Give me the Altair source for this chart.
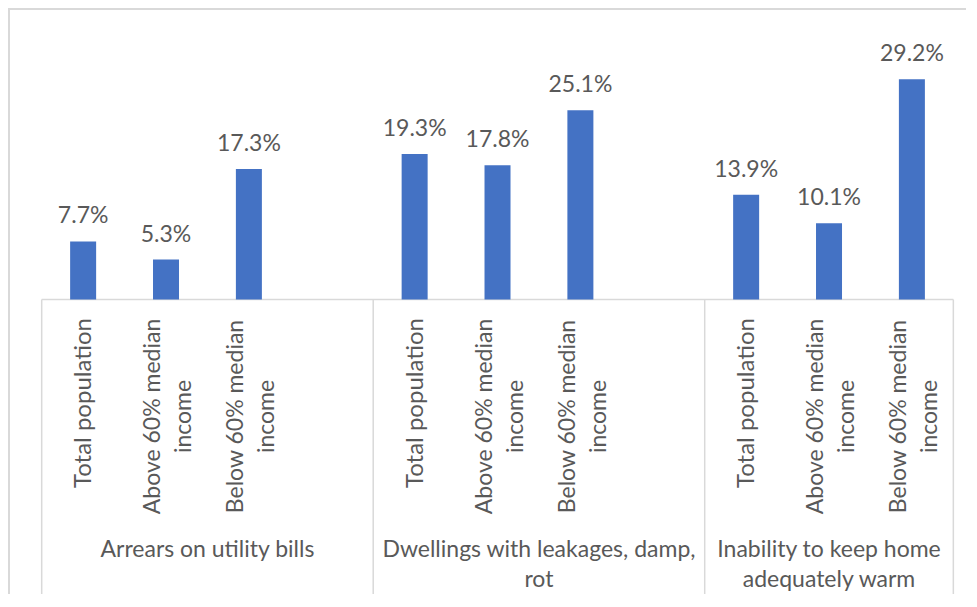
import altair as alt
import pandas as pd

# ---- data ----
groups = ["Arrears on utility bills",
          "Dwellings with leakages, damp, rot",
          "Inability to keep home adequately warm"]
group_lines = ["Arrears on utility bills",
               "Dwellings with leakages, damp,\nrot",
               "Inability to keep home\nadequately warm"]
categories = ["Total population", "Above 60% median income", "Below 60% median income"]
category_lines = ["Total population",
                  "Above 60% median\nincome",
                  "Below 60% median\nincome"]
values = [[7.7, 5.3, 17.3],
          [19.3, 17.8, 25.1],
          [13.9, 10.1, 29.2]]

# ---- layout ----
W, H = 958, 586
SLOT = 83.75
X0 = 29.0          # px of slot 0
Y0 = 291.5         # px of 0 %
PPU = 7.54         # px per percentage point
x_dom = [-X0 / SLOT, (W - X0) / SLOT]
y_dom = [-(H - Y0) / PPU, Y0 / PPU]

BLUE = "#4472C4"
GREY_TXT = "#595959"
GREY_LINE = "#D9D9D9"
FONT = "Lato"

n_cat = len(categories)
rows, grows = [], []
bounds = [0]
start = 0
for g, grp in enumerate(groups):
    for i, cat in enumerate(categories):
        rows.append({"group": grp, "category": cat, "lines": category_lines[i],
                     "nlines": category_lines[i].count("\n") + 1,
                     "slot": start + i + 0.5, "value": values[g][i], "zero": 0.0,
                     "label": f"{values[g][i]:.1f}%"})
    end = start + n_cat + (1 if g < len(groups) - 1 else 0)
    grows.append({"group": grp, "lines": group_lines[g], "mid": (start + end) / 2})
    bounds.append(end)
    start = end

df = pd.DataFrame(rows)
gdf = pd.DataFrame(grows)
sep_df = pd.DataFrame({"slot": bounds, "zero": [0.0] * len(bounds)})
base_df = pd.DataFrame({"s0": [bounds[0]], "s1": [bounds[-1]], "v": [0.0]})

xs = alt.Scale(domain=x_dom, nice=False, zero=False)
ys = alt.Scale(domain=y_dom, nice=False, zero=False)


def X(f):
    return alt.X(f, type="quantitative", scale=xs, axis=None)


def Y(f):
    return alt.Y(f, type="quantitative", scale=ys, axis=None)


bars = alt.Chart(df).mark_bar(size=26, color=BLUE).encode(
    x=X("slot"), y=Y("value"), y2="zero")

vlabels = alt.Chart(df).mark_text(
    font=FONT, fontSize=23, color=GREY_TXT, align="center",
    baseline="alphabetic", dy=-18).encode(
    x=X("slot"), y=Y("value"), text="label:N")

baseline = alt.Chart(base_df).mark_rule(color=GREY_LINE, strokeWidth=1.5).encode(
    x=X("s0"), x2="s1", y=Y("v"))

seps = alt.Chart(sep_df).mark_rule(color=GREY_LINE, strokeWidth=1.5).encode(
    x=X("slot"), y=Y("zero"), y2=alt.value(H))

cat_single = alt.Chart(df).transform_filter("datum.nlines == 1").mark_text(
    font=FONT, fontSize=24, color=GREY_TXT, angle=270, align="right",
    baseline="alphabetic", dy=8).encode(
    x=X("slot"), y=alt.value(310), text="category:N")

cat_multi = alt.Chart(df).transform_filter("datum.nlines > 1").mark_text(
    font=FONT, fontSize=23, color=GREY_TXT, angle=270, align="center",
    baseline="alphabetic", dy=-5.6, lineHeight=31, lineBreak="\n").encode(
    x=X("slot"), y=alt.value(408.5), text="lines:N")

glabels = alt.Chart(gdf).mark_text(
    font=FONT, fontSize=23, color=GREY_TXT, align="center",
    baseline="alphabetic", lineHeight=30, lineBreak="\n").encode(
    x=X("mid"), y=alt.value(548.7), text="lines:N")

frame_left = alt.Chart(base_df).mark_rule(color=GREY_LINE, strokeWidth=2).encode(
    x=alt.value(1), y=alt.value(0), y2=alt.value(H))
frame_top = alt.Chart(base_df).mark_rule(color=GREY_LINE, strokeWidth=2).encode(
    x=alt.value(1), x2=alt.value(W), y=alt.value(1))

chart = alt.layer(frame_left, frame_top, baseline, seps, bars, vlabels,
                  cat_single, cat_multi, glabels).properties(
    width=W, height=H,
    autosize=alt.AutoSizeParams(type="none"),
    padding=0,
    background="white",
).configure_view(stroke=None)

chart.save("out.html", embed_options={"renderer": "svg", "actions": False})
